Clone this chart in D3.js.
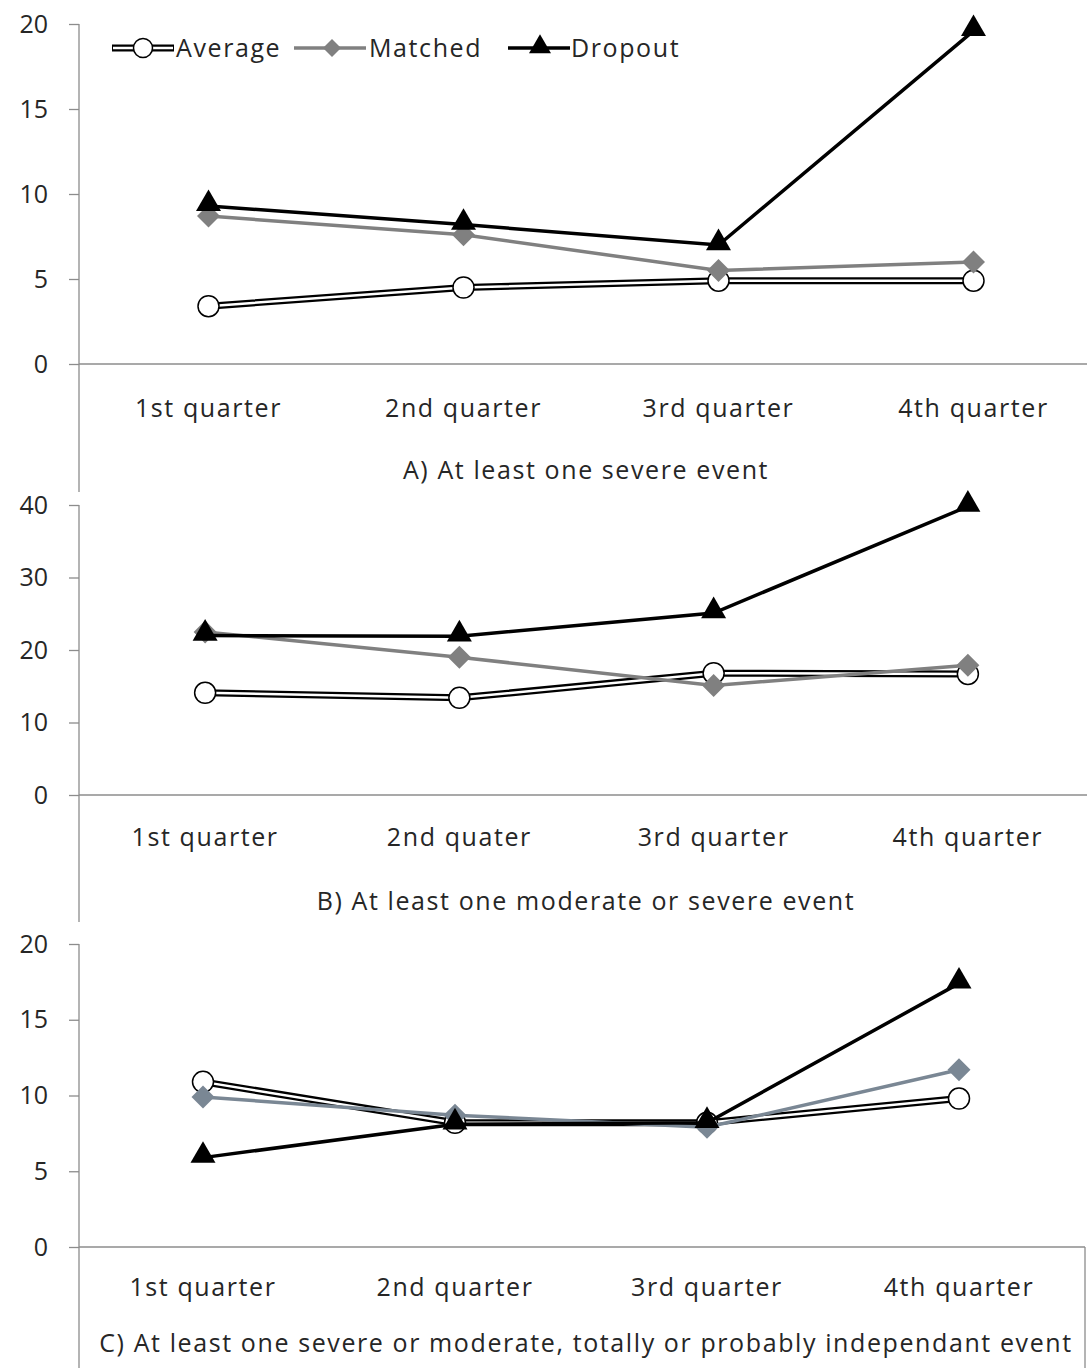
<!DOCTYPE html>
<html><head><meta charset="utf-8">
<script src="https://cdn.jsdelivr.net/npm/d3@7"></script>
<style>body{margin:0;background:#fff}svg{display:block}text{font-family:"Open Sans","Noto Sans",sans-serif;fill:#262626}
.lbl{letter-spacing:1.6px}</style>
</head><body>
<svg id="c" width="1087" height="1368"></svg>
<script>
const seriesNames = ["Average", "Matched", "Dropout"];
const categoriesA = ["1st quarter", "2nd quarter", "3rd quarter", "4th quarter"];
const categoriesB = ["1st quarter", "2nd quater", "3rd quarter", "4th quarter"];
const categoriesC = ["1st quarter", "2nd quarter", "3rd quarter", "4th quarter"];
const averageA = [3.4, 4.5, 4.9, 4.9];
const matchedA = [8.7, 7.6, 5.5, 6.0];
const dropoutA = [9.3, 8.2, 7.0, 19.6];
const averageB = [14.1, 13.4, 16.8, 16.7];
const matchedB = [22.5, 19.0, 15.1, 17.9];
const dropoutB = [22.0, 21.9, 25.1, 39.8];
const averageC = [10.9, 8.2, 8.2, 9.8];
const matchedC = [9.9, 8.7, 7.9, 11.7];
const dropoutC = [5.9, 8.1, 8.2, 17.4];
const ticksA = [0, 5, 10, 15, 20];
const ticksB = [0, 10, 20, 30, 40];
const ticksC = [0, 5, 10, 15, 20];
const titleA = "A) At least one severe event";
const titleB = "B) At least one moderate or severe event";
const titleC = "C) At least one severe or moderate, totally or probably independant event";

const svg = d3.select("#c");
const axisX = 79;
const FS = 25;

const panels = [
  {cats: categoriesA, avg: averageA, mat: matchedA, drop: dropoutA, ticks: ticksA, title: titleA,
   xr: [81, 1101], yr: [364, 24], axisBottom: 492, labelY: 408, titleY: 470, matColor: "#808080", box: false},
  {cats: categoriesB, avg: averageB, mat: matchedB, drop: dropoutB, ticks: ticksB, title: titleB,
   xr: [78, 1095], yr: [795, 505], axisBottom: 922, labelY: 837, titleY: 901, matColor: "#808080", box: false},
  {cats: categoriesC, avg: averageC, mat: matchedC, drop: dropoutC, ticks: ticksC, title: titleC,
   xr: [77, 1085], yr: [1247, 944], axisBottom: 1368, labelY: 1287, titleY: 1343, matColor: "#7a8794", box: true}
];

const tri = d3.symbol().type(d3.symbolTriangle).size(270);
const triL = d3.symbol().type(d3.symbolTriangle).size(210);
const diamond = r => `M0,${-r}L${r},0L0,${r}L${-r},0Z`;

panels.forEach(p => {
  const g = svg.append("g");
  const x = d3.scaleBand().domain(p.cats).range(p.xr).padding(0);
  const cx = c => x(c) + x.bandwidth() / 2;
  const tmax = p.ticks[p.ticks.length - 1];
  const y = d3.scaleLinear().domain([0, tmax]).range(p.yr);

  g.append("line").attr("x1", axisX).attr("x2", axisX).attr("y1", y(tmax)).attr("y2", p.axisBottom)
    .attr("stroke", "#8c8c8c").attr("stroke-width", 1.3);
  const xEnd = p.box ? p.xr[1] : 1087;
  g.append("line").attr("x1", axisX).attr("x2", xEnd).attr("y1", y(0)).attr("y2", y(0))
    .attr("stroke", "#8c8c8c").attr("stroke-width", 1.3);
  if (p.box) {
    g.append("line").attr("x1", xEnd).attr("x2", xEnd).attr("y1", y(0)).attr("y2", p.axisBottom)
      .attr("stroke", "#8c8c8c").attr("stroke-width", 1.3);
  }
  const ax = g.append("g").attr("transform", `translate(${axisX},0)`)
    .call(d3.axisLeft(y).tickValues(p.ticks).tickSize(10).tickPadding(21));
  ax.select(".domain").remove();
  ax.selectAll(".tick line").attr("stroke", "#8c8c8c").attr("stroke-width", 1.3);
  ax.selectAll(".tick text").attr("font-size", FS).attr("fill", "#262626")
    .style("font-family", '"Open Sans","Noto Sans",sans-serif');

  g.selectAll(".cat").data(p.cats).enter().append("text").attr("class", "lbl")
    .attr("x", d => cx(d)).attr("y", p.labelY).attr("dy", "0.35em")
    .attr("text-anchor", "middle").attr("font-size", FS).text(d => d);
  g.append("text").attr("class", "lbl").attr("x", 586).attr("y", p.titleY).attr("dy", "0.35em")
    .attr("text-anchor", "middle").attr("font-size", FS).text(p.title);

  const line = d3.line().x((d, i) => cx(p.cats[i])).y(d => y(d));

  g.append("path").attr("d", line(p.avg)).attr("fill", "none").attr("stroke", "#000").attr("stroke-width", 7);
  g.append("path").attr("d", line(p.avg)).attr("fill", "none").attr("stroke", "#fff").attr("stroke-width", 2.5);
  g.selectAll(".avgm").data(p.avg).enter().append("circle")
    .attr("cx", (d, i) => cx(p.cats[i])).attr("cy", d => y(d)).attr("r", 10.5)
    .attr("fill", "#fff").attr("stroke", "#000").attr("stroke-width", 1.5);

  g.append("path").attr("d", line(p.mat)).attr("fill", "none").attr("stroke", p.matColor).attr("stroke-width", 3.5);
  g.selectAll(".matm").data(p.mat).enter().append("path")
    .attr("transform", (d, i) => `translate(${cx(p.cats[i])},${y(d)})`).attr("d", diamond(11.5)).attr("fill", p.matColor);

  g.append("path").attr("d", line(p.drop)).attr("fill", "none").attr("stroke", "#000").attr("stroke-width", 3.5);
  g.selectAll(".dropm").data(p.drop).enter().append("path")
    .attr("transform", (d, i) => `translate(${cx(p.cats[i])},${y(d) - 2})`).attr("d", tri).attr("fill", "#000");
});

// Legend
const ly = 48;
const leg = svg.append("g");
leg.append("line").attr("x1", 112).attr("x2", 174).attr("y1", ly).attr("y2", ly).attr("stroke", "#000").attr("stroke-width", 7);
leg.append("line").attr("x1", 113).attr("x2", 173).attr("y1", ly).attr("y2", ly).attr("stroke", "#fff").attr("stroke-width", 2.5);
leg.append("circle").attr("cx", 143).attr("cy", ly).attr("r", 9.5).attr("fill", "#fff").attr("stroke", "#000").attr("stroke-width", 1.5);
leg.append("text").attr("class", "lbl").attr("x", 176).attr("y", ly).attr("dy", "0.35em").attr("font-size", FS).text(seriesNames[0]);
leg.append("line").attr("x1", 294).attr("x2", 366).attr("y1", ly).attr("y2", ly).attr("stroke", "#808080").attr("stroke-width", 3.5);
leg.append("path").attr("transform", `translate(332,${ly})`).attr("d", diamond(9)).attr("fill", "#808080");
leg.append("text").attr("class", "lbl").attr("x", 369).attr("y", ly).attr("dy", "0.35em").attr("font-size", FS).text(seriesNames[1]);
leg.append("line").attr("x1", 508).attr("x2", 570).attr("y1", ly).attr("y2", ly).attr("stroke", "#000").attr("stroke-width", 3.5);
leg.append("path").attr("transform", `translate(540,${ly - 1})`).attr("d", triL).attr("fill", "#000");
leg.append("text").attr("class", "lbl").attr("x", 571).attr("y", ly).attr("dy", "0.35em").attr("font-size", FS).text(seriesNames[2]);
</script>
</body></html>
